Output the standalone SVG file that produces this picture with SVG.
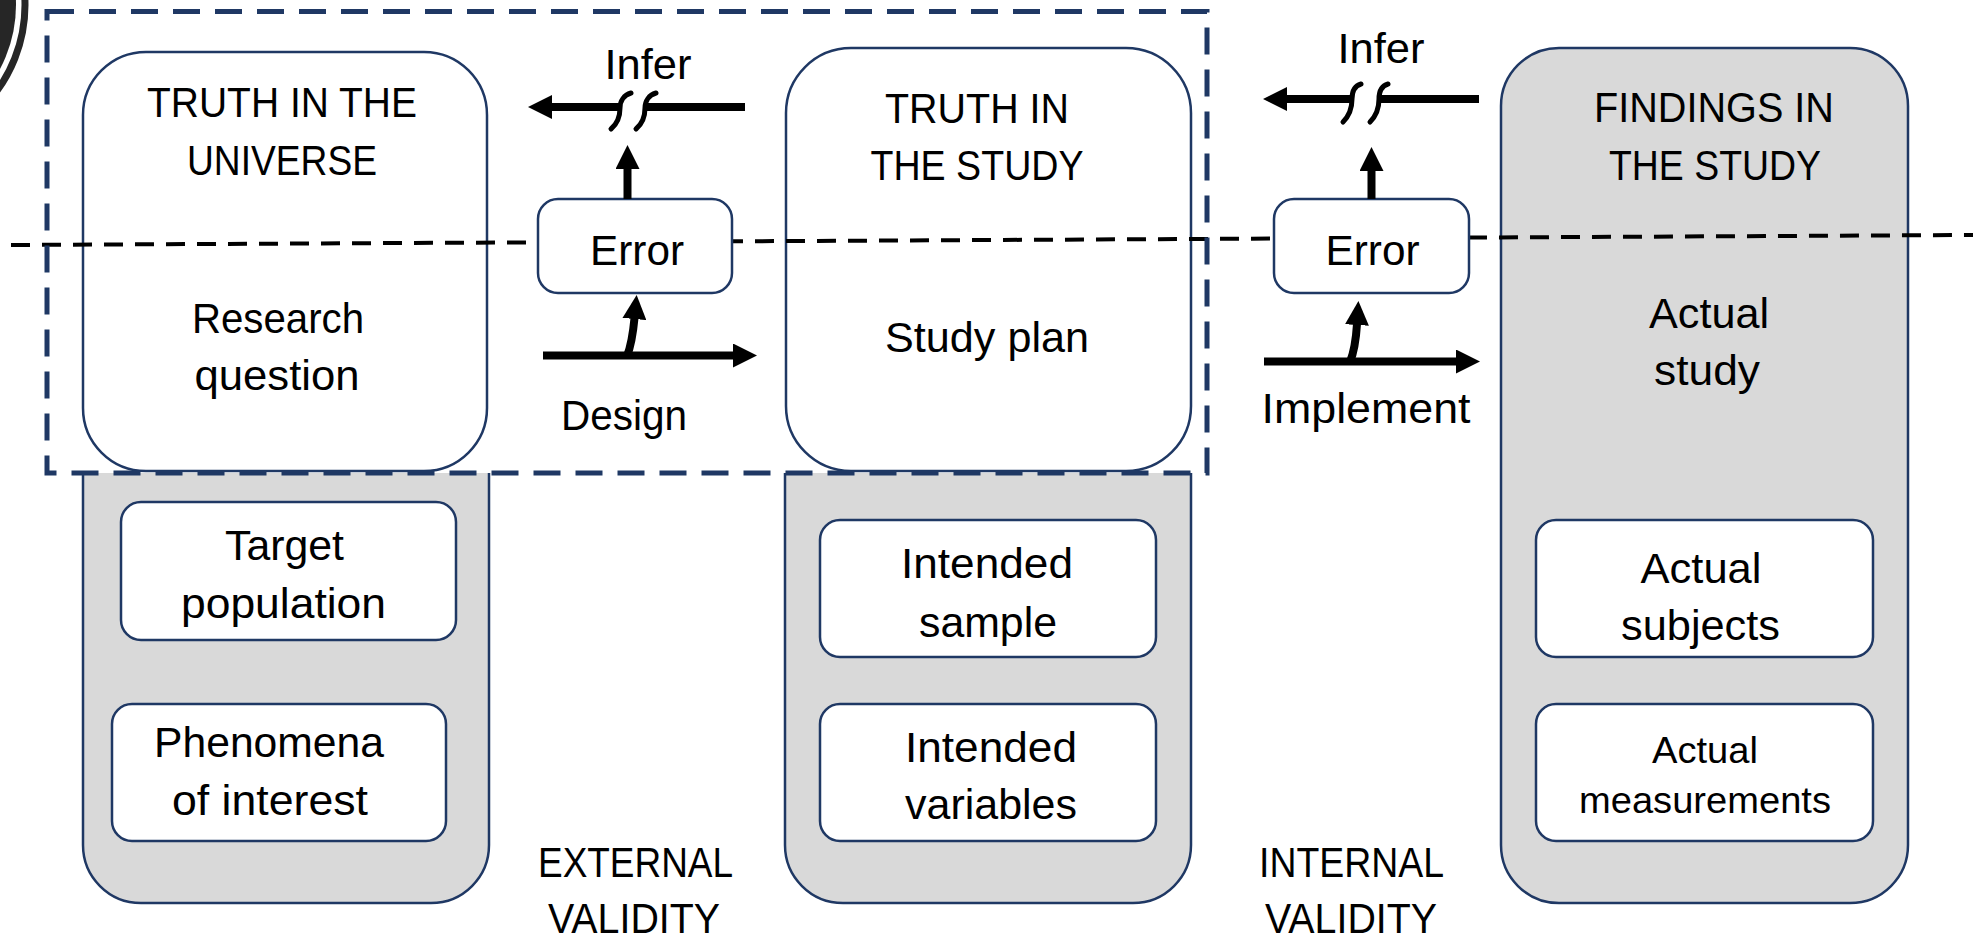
<svg xmlns="http://www.w3.org/2000/svg" width="1973" height="940" viewBox="0 0 1973 940">
  <defs>
    <style>
      .box { fill: #ffffff; stroke: #1F3864; stroke-width: 2.5; }
      .grey { fill: #D9D9D9; stroke: #1F3864; stroke-width: 2.5; }
      .t { font-family: 'Liberation Sans', Arial, sans-serif; font-size: 42px; fill: #000; text-anchor: middle; }
      .s { font-size: 37px; }
      .shaft { fill: none; stroke: #000; stroke-width: 8; }
      .brk { fill: none; stroke: #000; stroke-width: 5; stroke-linecap: round; }
      .midline { stroke: #000; stroke-width: 4; stroke-dasharray: 19 12; }
      .frame { fill: none; stroke: #1F3864; stroke-width: 5; stroke-dasharray: 27 15; }
    </style>
    <marker id="head" markerUnits="userSpaceOnUse" viewBox="0 0 24 24" markerWidth="24" markerHeight="24" refX="1" refY="12" orient="auto">
      <path d="M0,0 L24,12 L0,24 Z" fill="#000"/>
    </marker>
  </defs>

  <rect width="1973" height="940" fill="#ffffff"/>

  <!-- corner emblem -->
  <g id="emblem">
    <circle cx="-120" cy="5" r="136" fill="#262626"/>
    <circle cx="-120" cy="5" r="145" fill="none" stroke="#262626" stroke-width="7"/>
  </g>

  <!-- column 1: truth in the universe -->
  <g id="universe">
    <path class="grey" d="M83,473 V845 A58,58 0 0 0 141,903 H431 A58,58 0 0 0 489,845 V473"/>
    <rect class="box" x="83" y="52" width="404" height="419" rx="63"/>
  </g>
  <g id="target-population">
    <rect class="box" x="121" y="502" width="335" height="138" rx="20"/>
  </g>
  <g id="phenomena">
    <rect class="box" x="112" y="704" width="334" height="137" rx="20"/>
  </g>

  <!-- column 2: truth in the study -->
  <g id="study">
    <path class="grey" d="M785,473 V845 A58,58 0 0 0 843,903 H1133 A58,58 0 0 0 1191,845 V473"/>
    <rect class="box" x="786" y="48" width="405" height="423" rx="65"/>
  </g>
  <g id="intended-sample">
    <rect class="box" x="820" y="520" width="336" height="137" rx="20"/>
  </g>
  <g id="intended-variables">
    <rect class="box" x="820" y="704" width="336" height="137" rx="20"/>
  </g>

  <!-- column 3: findings in the study -->
  <g id="findings">
    <rect class="grey" x="1501" y="48" width="407" height="855" rx="58"/>
  </g>
  <g id="actual-subjects">
    <rect class="box" x="1536" y="520" width="337" height="137" rx="20"/>
  </g>
  <g id="actual-measurements">
    <rect class="box" x="1536" y="704" width="337" height="137" rx="20"/>
  </g>

  <!-- divider between truth and plan levels -->
  <line class="midline" x1="11" y1="245" x2="1973" y2="235"/>

  <g id="error-design">
    <rect class="box" x="538" y="199" width="194" height="94" rx="20"/>
  </g>
  <g id="error-implement">
    <rect class="box" x="1274" y="199" width="195" height="94" rx="20"/>
  </g>

  <!-- connectors -->
  <g id="connectors">
    <!-- infer (left) with break -->
    <line class="shaft" x1="621" y1="107" x2="551" y2="107" marker-end="url(#head)"/>
    <line class="shaft" x1="645" y1="107" x2="745" y2="107"/>
    <path class="brk" d="M631,93 C624,95 620,101 620,108 C620,116 617,124 611,129"/>
    <path class="brk" d="M656,93 C649,95 645,101 645,108 C645,116 642,124 636,129"/>
    <line class="shaft" x1="627.5" y1="199" x2="627.5" y2="168" marker-end="url(#head)"/>

    <!-- design -->
    <line class="shaft" x1="543" y1="355.5" x2="734" y2="355.5" marker-end="url(#head)"/>
    <path class="shaft" d="M627,356 C631,346 633,334 634.5,318" marker-end="url(#head)"/>

    <!-- infer (right) with break -->
    <line class="shaft" x1="1353" y1="99" x2="1286" y2="99" marker-end="url(#head)"/>
    <line class="shaft" x1="1379" y1="99" x2="1479" y2="99"/>
    <path class="brk" d="M1361,84 C1354,86 1352,92 1352,99 C1352,108 1349,116 1343,122"/>
    <path class="brk" d="M1388,84 C1381,86 1379,92 1379,99 C1379,108 1376,116 1370,122"/>
    <line class="shaft" x1="1371.5" y1="199" x2="1371.5" y2="170" marker-end="url(#head)"/>

    <!-- implement -->
    <line class="shaft" x1="1264" y1="361.5" x2="1457" y2="361.5" marker-end="url(#head)"/>
    <path class="shaft" d="M1350,362 C1354,352 1356,340 1357,324" marker-end="url(#head)"/>
  </g>

  <!-- labels -->
  <g id="labels">
    <text class="t" x="282" y="117" textLength="270" lengthAdjust="spacingAndGlyphs">TRUTH IN THE</text>
    <text class="t" x="282" y="175" textLength="190" lengthAdjust="spacingAndGlyphs">UNIVERSE</text>
    <text class="t" x="278" y="333" textLength="172" lengthAdjust="spacingAndGlyphs">Research</text>
    <text class="t" x="277" y="390" textLength="165" lengthAdjust="spacingAndGlyphs">question</text>

    <text class="t" x="977" y="123" textLength="184" lengthAdjust="spacingAndGlyphs">TRUTH IN</text>
    <text class="t" x="977" y="180" textLength="213" lengthAdjust="spacingAndGlyphs">THE STUDY</text>
    <text class="t" x="987" y="352" textLength="204" lengthAdjust="spacingAndGlyphs">Study plan</text>

    <text class="t" x="1714" y="122" textLength="240" lengthAdjust="spacingAndGlyphs">FINDINGS IN</text>
    <text class="t" x="1715" y="180" textLength="212" lengthAdjust="spacingAndGlyphs">THE STUDY</text>
    <text class="t" x="1709" y="328" textLength="120" lengthAdjust="spacingAndGlyphs">Actual</text>
    <text class="t" x="1707" y="385" textLength="106" lengthAdjust="spacingAndGlyphs">study</text>

    <text class="t" x="648" y="79" textLength="87" lengthAdjust="spacingAndGlyphs">Infer</text>
    <text class="t" x="1381" y="63" textLength="87" lengthAdjust="spacingAndGlyphs">Infer</text>
    <text class="t" x="637" y="265" textLength="94" lengthAdjust="spacingAndGlyphs">Error</text>
    <text class="t" x="1372.5" y="265" textLength="94" lengthAdjust="spacingAndGlyphs">Error</text>
    <text class="t" x="624" y="430" textLength="126" lengthAdjust="spacingAndGlyphs">Design</text>
    <text class="t" x="1366" y="423" textLength="209" lengthAdjust="spacingAndGlyphs">Implement</text>

    <text class="t" x="284.5" y="560" textLength="119" lengthAdjust="spacingAndGlyphs">Target</text>
    <text class="t" x="283.5" y="618" textLength="205" lengthAdjust="spacingAndGlyphs">population</text>
    <text class="t" x="269" y="757" textLength="230" lengthAdjust="spacingAndGlyphs">Phenomena</text>
    <text class="t" x="270" y="815" textLength="196" lengthAdjust="spacingAndGlyphs">of interest</text>

    <text class="t" x="987" y="578" textLength="172" lengthAdjust="spacingAndGlyphs">Intended</text>
    <text class="t" x="988" y="637" textLength="138" lengthAdjust="spacingAndGlyphs">sample</text>
    <text class="t" x="991" y="762" textLength="172" lengthAdjust="spacingAndGlyphs">Intended</text>
    <text class="t" x="991" y="819" textLength="172" lengthAdjust="spacingAndGlyphs">variables</text>

    <text class="t" x="1701" y="583" textLength="121" lengthAdjust="spacingAndGlyphs">Actual</text>
    <text class="t" x="1700.5" y="640" textLength="159" lengthAdjust="spacingAndGlyphs">subjects</text>
    <text class="t s" x="1705" y="763" textLength="106" lengthAdjust="spacingAndGlyphs">Actual</text>
    <text class="t s" x="1705" y="813" textLength="252" lengthAdjust="spacingAndGlyphs">measurements</text>

    <text class="t" x="635.5" y="877" textLength="195" lengthAdjust="spacingAndGlyphs">EXTERNAL</text>
    <text class="t" x="634" y="933" textLength="172" lengthAdjust="spacingAndGlyphs">VALIDITY</text>
    <text class="t" x="1351.5" y="877" textLength="185" lengthAdjust="spacingAndGlyphs">INTERNAL</text>
    <text class="t" x="1351" y="933" textLength="172" lengthAdjust="spacingAndGlyphs">VALIDITY</text>
  </g>

  <!-- design scope frame -->
  <rect id="scope" class="frame" x="47" y="11.5" width="1160" height="461.5"/>
</svg>
